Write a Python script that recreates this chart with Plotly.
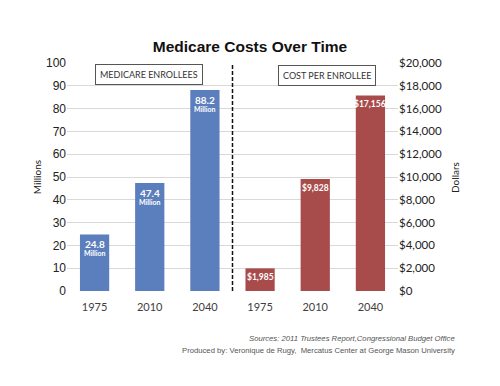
import plotly.graph_objects as go

years = ["1975", "2010", "2040"]
enrollees_millions = [24.8, 47.4, 88.2]
cost_per_enrollee = [1985, 9828, 17156]
left_ticks = list(range(0, 101, 10))
right_ticks = list(range(0, 20001, 2000))

blue = "#5b7ebd"
red = "#a84c4b"

n = len(years)
x_left = list(range(n))
x_right = list(range(n, 2 * n))

fig = go.Figure()
fig.add_trace(go.Bar(x=x_left, y=enrollees_millions, marker=dict(color=blue, line=dict(width=0)),
                     width=0.53, yaxis="y", hoverinfo="skip"))
fig.add_trace(go.Bar(x=x_right, y=cost_per_enrollee, marker=dict(color=red, line=dict(width=0)),
                     width=0.53, yaxis="y2", hoverinfo="skip"))

annotations = []
for xi, v in zip(x_left, enrollees_millions):
    annotations.append(dict(x=xi, y=v, xref="x", yref="y", text=f"<b>{v}</b>", showarrow=False,
                            yshift=-10, font=dict(family="Lato, Liberation Sans", size=10, color="white")))
    annotations.append(dict(x=xi, y=v, xref="x", yref="y", text="<b>Million</b>", showarrow=False,
                            yshift=-19, font=dict(family="Lato, Liberation Sans", size=7, color="white")))
for xi, v in zip(x_right, cost_per_enrollee):
    annotations.append(dict(x=xi, y=v, xref="x", yref="y2", text=f"<b>${v:,}</b>", showarrow=False,
                            yshift=-9, font=dict(family="Lato, Liberation Sans", size=8.5, color="white")))

box_font = dict(family="Lato, Open Sans", size=9, color="#333333")
annotations.append(dict(x=0.249, y=0.949, xref="paper", yref="paper", xanchor="center", yanchor="middle",
                        text="MEDICARE ENROLLEES", showarrow=False, font=box_font, bordercolor="#555555",
                        borderwidth=1, borderpad=4, bgcolor="white"))
annotations.append(dict(x=0.787, y=0.947, xref="paper", yref="paper", xanchor="center", yanchor="middle",
                        text="COST PER ENROLLEE", showarrow=False, font=box_font, bordercolor="#555555",
                        borderwidth=1, borderpad=4, bgcolor="white"))
src_font = dict(family="Liberation Sans", size=7.7, color="#555555")
annotations.append(dict(x=1.178, y=-0.21, xref="paper", yref="paper", xanchor="right", yanchor="middle",
                        text="<i>Sources: 2011 Trustees Report,Congressional Budget Office</i>",
                        showarrow=False, font=src_font))
annotations.append(dict(x=1.178, y=-0.259, xref="paper", yref="paper", xanchor="right", yanchor="middle",
                        text="Produced by: Veronique de Rugy,  Mercatus Center at George Mason University",
                        showarrow=False, font=src_font))
annotations.append(dict(x=-0.09, y=0.5, xref="paper", yref="paper", xanchor="center", yanchor="middle",
                        text="Millions", textangle=-90,
                        showarrow=False, font=dict(family="Lato, Liberation Sans", size=10, color="#222222")))
annotations.append(dict(x=1.172, y=0.5, xref="paper", yref="paper", xanchor="center", yanchor="middle",
                        text="Dollars", textangle=-90,
                        showarrow=False, font=dict(family="Lato, Liberation Sans", size=10, color="#222222")))

fig.update_layout(
    width=500, height=386,
    margin=dict(l=67, r=102, t=63, b=95),
    paper_bgcolor="white", plot_bgcolor="white",
    showlegend=False,
    barmode="overlay",
    title=dict(text="<b>Medicare Costs Over Time</b>", x=0.5, xanchor="center", y=1 - 47 / 386,
               yanchor="middle", font=dict(family="Liberation Sans, Arial", size=15.5, color="#111111")),
    xaxis=dict(range=[-0.5, 2 * n - 0.5], tickvals=x_left + x_right, ticktext=years + years,
               showgrid=False, zeroline=False, showline=False, ticks="", automargin=False,
               tickfont=dict(family="Lato, Open Sans", size=11, color="#404040"), ticklabelstandoff=8),
    yaxis=dict(range=[0, 100], tickvals=left_ticks, showgrid=True, gridcolor="#d9d9d9", gridwidth=1,
               zeroline=False, showline=False, ticks="", automargin=False,
               tickfont=dict(family="Liberation Sans, Arial", size=12, color="#222222")),
    yaxis2=dict(range=[0, 20000], tickvals=right_ticks, ticktext=[f"${t:,}" for t in right_ticks],
                overlaying="y", side="right", showgrid=False, zeroline=False, showline=False, ticks="",
                automargin=False, tickfont=dict(family="Lato, Open Sans", size=11.5, color="#222222")),
    shapes=[dict(type="line", xref="x", yref="paper", x0=(n - 1 + n) / 2, x1=(n - 1 + n) / 2,
                 y0=0, y1=1, line=dict(color="#111111", width=1.5, dash="4px,2px"))],
    annotations=annotations,
)

fig.write_html("out.html", post_script="document.body.style.margin='0';",
               config={"displayModeBar": False})
